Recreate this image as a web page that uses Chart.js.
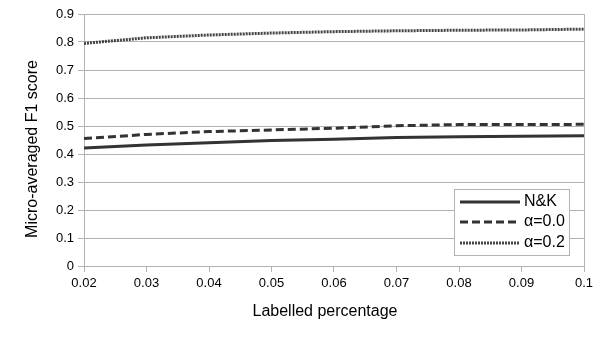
<!DOCTYPE html>
<html><head><meta charset="utf-8">
<script src="https://cdn.jsdelivr.net/npm/chart.js@4/dist/chart.umd.min.js"></script>
<style>html,body{margin:0;padding:0;background:#fff}#wrap{width:605px;height:340px}</style>
</head><body><div id="wrap"><canvas id="c" width="605" height="340"></canvas></div>
<script>
const labelledPct = [0.02, 0.03, 0.04, 0.05, 0.06, 0.07, 0.08, 0.09, 0.1];
const nkScores = [0.421, 0.432, 0.440, 0.448, 0.453, 0.459, 0.462, 0.463, 0.465];
const alpha00Scores = [0.455, 0.470, 0.480, 0.486, 0.492, 0.501, 0.505, 0.505, 0.506];
const alpha02Scores = [0.795, 0.815, 0.825, 0.832, 0.837, 0.840, 0.842, 0.843, 0.846];
const seriesNames = ['N&K', 'α=0.0', 'α=0.2'];
const xTitle = 'Labelled percentage';
const yTitle = 'Micro-averaged F1 score';

const FONT = '"Liberation Sans", Arial, sans-serif';
const GRID = '#b3b3b3';

const legendPlugin = {
  id: 'boxLegend',
  afterDatasetsDraw(chart) {
    const ctx = chart.ctx;
    const x0 = 454, y0 = 189, w = 115, h = 66;
    ctx.save();
    ctx.fillStyle = '#fff';
    ctx.fillRect(x0, y0, w, h);
    ctx.strokeStyle = GRID;
    ctx.lineWidth = 1;
    ctx.strokeRect(x0 + 0.5, y0 + 0.5, w, h);
    const ys = [202, 222, 243];
    chart.data.datasets.forEach((ds, i) => {
      ctx.strokeStyle = ds.borderColor;
      ctx.lineWidth = ds.borderWidth;
      ctx.setLineDash(ds.borderDash || []);
      ctx.beginPath();
      ctx.moveTo(460, ys[i]);
      ctx.lineTo(520, ys[i]);
      ctx.stroke();
      ctx.setLineDash([]);
      ctx.fillStyle = '#000';
      ctx.font = '16px ' + FONT;
      ctx.textBaseline = 'middle';
      ctx.fillText(ds.label, 524, ys[i]);
    });
    // axis titles
    ctx.fillStyle = '#000';
    ctx.font = '16px ' + FONT;
    ctx.textAlign = 'center';
    ctx.textBaseline = 'alphabetic';
    ctx.fillText(xTitle, 325, 316);
    ctx.translate(37, 149);
    ctx.rotate(-Math.PI / 2);
    ctx.fillText(yTitle, 0, 0);
    ctx.restore();
  }
};

const toPts = arr => arr.map((v, i) => ({x: labelledPct[i], y: v}));

new Chart(document.getElementById('c'), {
  type: 'line',
  data: {
    datasets: [
      {label: seriesNames[0], data: toPts(nkScores), borderColor: '#333333', borderWidth: 3, pointRadius: 0, tension: 0},
      {label: seriesNames[1], data: toPts(alpha00Scores), borderColor: '#333333', borderWidth: 3, borderDash: [8, 4], pointRadius: 0, tension: 0},
      {label: seriesNames[2], data: toPts(alpha02Scores), borderColor: '#444444', borderWidth: 3, borderDash: [2, 1], pointRadius: 0, tension: 0}
    ]
  },
  options: {
    responsive: false,
    animation: false,
    layout: {padding: {top: 14, right: 21, left: 0, bottom: 0}},
    plugins: {legend: {display: false}, tooltip: {enabled: false}},
    scales: {
      x: {
        type: 'linear', min: 0.02, max: 0.1,
        afterFit(s) { s.height = 74; },
        ticks: {stepSize: 0.01, color: '#000', font: {family: FONT, size: 13}, padding: 4,
          callback: v => String(Math.round(v * 100) / 100)},
        grid: {
          color: c => (c.index === 0 || c.index === 8) ? GRID : 'rgba(0,0,0,0)',
          tickColor: GRID, tickLength: 6, drawTicks: true
        },
        border: {display: true, color: GRID},
        title: {display: false}
      },
      y: {
        min: 0, max: 0.9,
        afterFit(s) { s.width = 84; },
        ticks: {stepSize: 0.1, color: '#000', font: {family: FONT, size: 13}, padding: 4,
          callback: v => String(Math.round(v * 10) / 10)},
        grid: {color: GRID, tickColor: GRID, tickLength: 6},
        border: {display: true, color: GRID},
        title: {display: false}
      }
    }
  },
  plugins: [legendPlugin]
});
</script></body></html>
